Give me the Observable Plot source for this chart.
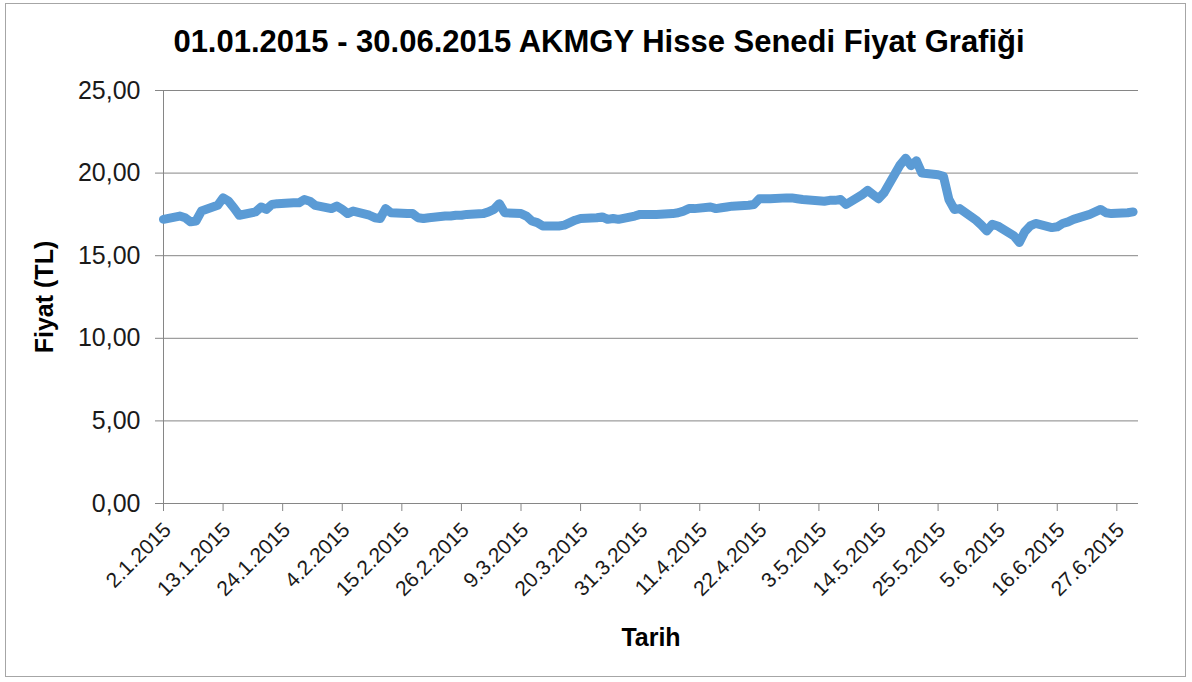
<!DOCTYPE html>
<html><head><meta charset="utf-8">
<script src="https://cdn.jsdelivr.net/npm/d3@7"></script>
<script src="https://cdn.jsdelivr.net/npm/@observablehq/plot@0.6"></script>
<style>
body{margin:0;background:#fff;font-family:"Liberation Sans",Arial,sans-serif;}
#frame{position:absolute;left:5px;top:3px;width:1181px;height:674px;border:1px solid #a6a6a6;box-sizing:border-box;}
#title{position:absolute;left:0;top:24px;width:1198px;text-align:center;font-weight:bold;font-size:31px;color:#000;line-height:36px;}
#chart{position:absolute;left:0;top:70px;}
g[aria-label="x-axis tick"], g[aria-label="y-axis tick"]{stroke:#868686;}
g[aria-label="x-axis label"], g[aria-label="x-axis label"] text,
g[aria-label="y-axis label"], g[aria-label="y-axis label"] text{font-weight:bold;font-size:25px;fill:#000;}
</style></head><body>
<div id="frame"></div>
<div id="title">01.01.2015 - 30.06.2015 AKMGY Hisse Senedi Fiyat Grafiği</div>
<div id="chart"></div>
<script>
const dates = [
"2015-01-02","2015-01-05","2015-01-06","2015-01-07","2015-01-08","2015-01-09","2015-01-12","2015-01-13","2015-01-14","2015-01-15","2015-01-16","2015-01-19","2015-01-20","2015-01-21","2015-01-22","2015-01-23","2015-01-26","2015-01-27","2015-01-28","2015-01-29","2015-01-30",
"2015-02-02","2015-02-03","2015-02-04","2015-02-05","2015-02-06","2015-02-09","2015-02-10","2015-02-11","2015-02-12","2015-02-13","2015-02-16","2015-02-17","2015-02-18","2015-02-19","2015-02-20","2015-02-23","2015-02-24","2015-02-25","2015-02-26","2015-02-27",
"2015-03-02","2015-03-03","2015-03-04","2015-03-05","2015-03-06","2015-03-09","2015-03-10","2015-03-11","2015-03-12","2015-03-13","2015-03-16","2015-03-17","2015-03-18","2015-03-19","2015-03-20","2015-03-23","2015-03-24","2015-03-25","2015-03-26","2015-03-27","2015-03-30","2015-03-31",
"2015-04-01","2015-04-02","2015-04-03","2015-04-06","2015-04-07","2015-04-08","2015-04-09","2015-04-10","2015-04-13","2015-04-14","2015-04-15","2015-04-16","2015-04-17","2015-04-20","2015-04-21","2015-04-22","2015-04-24","2015-04-27","2015-04-28","2015-04-29","2015-04-30",
"2015-05-04","2015-05-05","2015-05-06","2015-05-07","2015-05-08","2015-05-11","2015-05-12","2015-05-13","2015-05-14","2015-05-15","2015-05-18","2015-05-19","2015-05-20","2015-05-21","2015-05-22","2015-05-25","2015-05-26","2015-05-27","2015-05-28","2015-05-29",
"2015-06-01","2015-06-02","2015-06-03","2015-06-04","2015-06-05","2015-06-08","2015-06-09","2015-06-10","2015-06-11","2015-06-12","2015-06-15","2015-06-16","2015-06-17","2015-06-18","2015-06-19","2015-06-22","2015-06-23","2015-06-24","2015-06-25","2015-06-26","2015-06-29","2015-06-30"
];
const prices = [
17.2,17.4,17.3,17.05,17.1,17.7,18.05,18.5,18.3,17.9,17.45,17.65,17.95,17.8,18.1,18.15,18.2,18.2,18.4,18.3,18.05,
17.85,18.0,17.8,17.55,17.7,17.45,17.3,17.25,17.85,17.6,17.55,17.55,17.3,17.25,17.3,17.4,17.4,17.45,17.45,17.5,
17.55,17.65,17.8,18.15,17.6,17.55,17.4,17.1,17.0,16.8,16.8,16.85,17.0,17.15,17.25,17.3,17.35,17.2,17.25,17.2,17.4,17.5,
17.5,17.5,17.5,17.55,17.6,17.7,17.85,17.85,17.95,17.85,17.9,17.95,18.0,18.05,18.1,18.45,18.45,18.5,18.5,18.45,18.4,
18.3,18.35,18.35,18.4,18.1,18.7,18.95,18.7,18.45,18.8,20.5,20.9,20.45,20.75,20.0,19.9,19.8,18.4,17.8,17.85,
17.15,16.85,16.5,16.9,16.8,16.2,15.8,16.45,16.8,16.95,16.7,16.75,16.95,17.05,17.2,17.5,17.65,17.8,17.6,17.55,17.6,17.65
];
const tickDates = ["2015-01-02","2015-01-13","2015-01-24","2015-02-04","2015-02-15","2015-02-26","2015-03-09","2015-03-20","2015-03-31","2015-04-11","2015-04-22","2015-05-03","2015-05-14","2015-05-25","2015-06-05","2015-06-16","2015-06-27"];
const yTicks = [0,5,10,15,20,25];
const xStart = "2015-01-02", xEnd = "2015-07-01";

const utc = s => new Date(s + "T00:00:00Z");
const data = dates.map((d,i)=>({date: utc(d), price: prices[i]}));
const ticks = tickDates.map(utc);
const fmtDate = d => `${d.getUTCDate()}.${d.getUTCMonth()+1}.${d.getUTCFullYear()}`;
const fmtNum = v => v.toFixed(2).replace(".", ",");

const chart = Plot.plot({
  width: 1192, height: 612,
  marginTop: 20, marginBottom: 179, marginLeft: 163, marginRight: 54,
  style: {fontFamily: "'Liberation Sans', Arial, sans-serif", color: "#1a1a1a", background: "transparent", overflow: "visible"},
  x: {type: "utc", domain: [utc(xStart), utc(xEnd)]},
  y: {domain: [0, 25]},
  marks: [
    Plot.gridY(yTicks, {stroke: "#868686", strokeOpacity: 1}),
    Plot.ruleX([utc(xStart)], {stroke: "#868686"}),
    Plot.ruleY([0], {stroke: "#868686"}),
    Plot.axisY(yTicks, {tickFormat: fmtNum, tickSize: 8, tickPadding: 15, fontSize: 25, label: "Fiyat (TL)", labelAnchor: "center", labelOffset: 128, labelArrow: "none"}),
    Plot.axisX(ticks, {tickFormat: () => "", tickSize: 8, label: "Tarih", labelAnchor: "center", labelOffset: 142, labelArrow: "none"}),
    Plot.text(ticks, {x: d => d, text: fmtDate, frameAnchor: "bottom", rotate: -45, textAnchor: "end", lineAnchor: "middle", dx: 4, dy: 23, fontSize: 21, fill: "#1a1a1a"}),
    Plot.lineY(data, {x: "date", y: "price", stroke: "#5B9BD5", strokeWidth: 9, strokeLinejoin: "round", strokeLinecap: "round"})
  ]
});
document.getElementById("chart").appendChild(chart);
</script>
</body></html>
